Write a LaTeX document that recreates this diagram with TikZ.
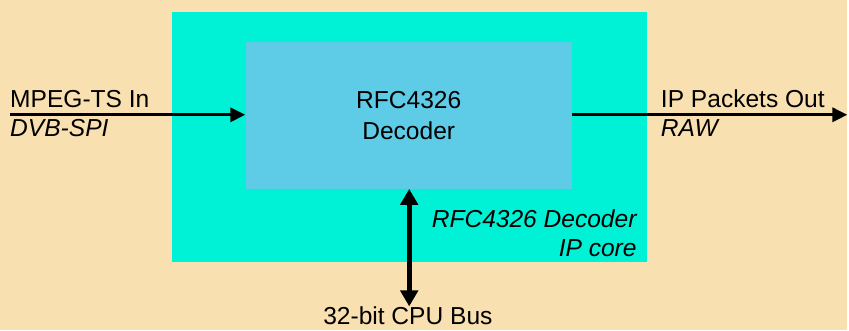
\documentclass[tikz,border=0pt]{standalone}
\usepackage{fontspec}
\setmainfont{Liberation Sans}
\usetikzlibrary{arrows.meta,positioning}
\definecolor{bgtan}{RGB}{249,224,176}
\definecolor{coreteal}{RGB}{0,242,214}
\definecolor{decblue}{RGB}{94,204,230}

\begin{document}
\begin{tikzpicture}[>={Triangle[length=0.45cm,width=0.42cm]},
		lbl/.style={font=\fontsize{21}{26.4}\selectfont, inner sep=0pt},
		sig/.style={line width=2.8pt},
		bus/.style={line width=4.2pt, {Triangle[length=0.48cm,width=0.52cm]}-{Triangle[length=0.48cm,width=0.52cm]}}
		]
	% Háttér
	\fill[bgtan] (0,0) rectangle (25.47,-9.93);
	
	% IP core keret
	\node[rectangle, fill=coreteal, minimum height=7.53cm, minimum width=14.28cm, inner sep=0pt] (core) at (12.30,-4.125) {};
	
	% Dekóder blokk
	\node[rectangle, fill=decblue, minimum height=4.41cm, minimum width=9.81cm, inner sep=0pt, align=center, lbl] (decoder) at (12.285,-3.465) {RFC4326\\Decoder};
	
	% Ki- és bemenetek
	\coordinate (tsin) at (0.30,-3.45);
	\coordinate (ipout) at (25.47,-3.45);
	\coordinate (cpubus) at (12.30,-9.21);
	
	\draw[sig,->] (tsin) -- (tsin -| decoder.west);
	\draw[sig,->] (ipout -| decoder.east) -- (ipout);
	\draw[bus] (decoder.south -| cpubus) -- (cpubus);
	
	% Feliratok
	\node[lbl, anchor=base west] (tsinName) at (0.30,-3.24) {MPEG-TS In};
	\node[lbl, anchor=base west] (tsinType) at (0.30,-4.11) {\itshape DVB-SPI};
	\node[lbl, anchor=base west] (ipoutName) at (19.86,-3.24) {IP Packets Out};
	\node[lbl, anchor=base west] (ipoutType) at (19.86,-4.11) {\itshape RAW};
	\node[lbl, anchor=base east] (coreName) at (19.14,-6.84) {\itshape RFC4326 Decoder};
	\node[lbl, anchor=base east] (coreType) at (19.14,-7.71) {\itshape IP core};
	\node[lbl, anchor=base] (busName) at (12.26,-9.75) {32-bit CPU Bus};
	
\end{tikzpicture}
\end{document}
